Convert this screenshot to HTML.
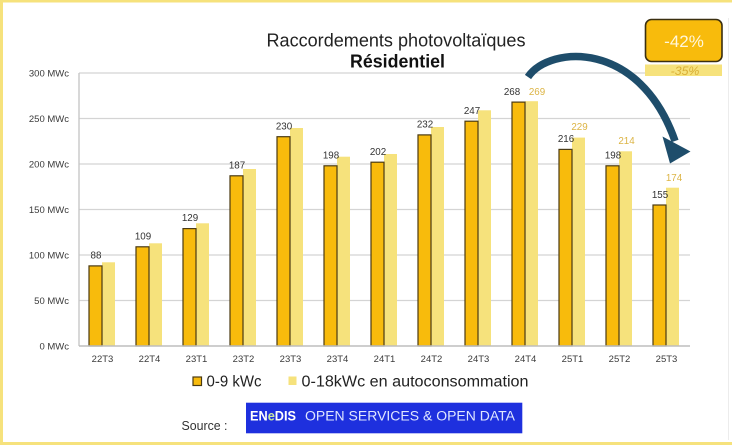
<!DOCTYPE html>
<html><head><meta charset="utf-8"><style>
html,body{margin:0;padding:0;background:#fff;}
svg{display:block;}
text{font-family:"Liberation Sans",Arial,sans-serif;}
</style></head><body>
<svg width="732" height="445" viewBox="0 0 732 445" xmlns="http://www.w3.org/2000/svg">
<rect x="0" y="0" width="732" height="445" fill="#fff"/>
<!-- frame -->
<rect x="0" y="0" width="732" height="2.5" fill="#f6e27c"/>
<rect x="0" y="0" width="3" height="445" fill="#f6e27c"/>
<rect x="0" y="442" width="732" height="3" fill="#f6e27c"/>
<line x1="728.5" y1="18" x2="728.5" y2="440" stroke="#ececec" stroke-width="1"/>

<!-- title -->
<text x="396" y="46.5" font-size="18" fill="#222" text-anchor="middle" textLength="259" lengthAdjust="spacingAndGlyphs">Raccordements photovoltaïques</text>
<text x="397.5" y="67.5" font-size="18" font-weight="bold" fill="#111" text-anchor="middle" textLength="95" lengthAdjust="spacingAndGlyphs">Résidentiel</text>

<!-- gridlines -->
<g stroke="#d4d4d4" stroke-width="1.3">
<line x1="79" y1="73" x2="690" y2="73"/>
<line x1="79" y1="118.5" x2="690" y2="118.5"/>
<line x1="79" y1="164" x2="690" y2="164"/>
<line x1="79" y1="209.5" x2="690" y2="209.5"/>
<line x1="79" y1="255" x2="690" y2="255"/>
<line x1="79" y1="300.5" x2="690" y2="300.5"/>
</g>
<line x1="79" y1="73" x2="79" y2="346" stroke="#c4c4c4" stroke-width="1.3"/>

<!-- y labels -->
<g font-size="9.5" fill="#3a3a3a" text-anchor="end">
<text x="69" y="76.5">300 MWc</text>
<text x="69" y="122">250 MWc</text>
<text x="69" y="167.5">200 MWc</text>
<text x="69" y="213">150 MWc</text>
<text x="69" y="258.5">100 MWc</text>
<text x="69" y="304">50 MWc</text>
<text x="69" y="349.5">0 MWc</text>
</g>

<!-- bars -->
<g fill="#f6e27c">
<rect x="102" y="262.3" width="13" height="83.7"/>
<rect x="149" y="243.3" width="13" height="102.7"/>
<rect x="196" y="223.3" width="13" height="122.7"/>
<rect x="243" y="169" width="13" height="177"/>
<rect x="290" y="128" width="13" height="218"/>
<rect x="337" y="156.7" width="13" height="189.3"/>
<rect x="384" y="154" width="13" height="192"/>
<rect x="431" y="127" width="13" height="219"/>
<rect x="478" y="110.3" width="13" height="235.7"/>
<rect x="525" y="101.2" width="13" height="244.8"/>
<rect x="572" y="137.6" width="13" height="208.4"/>
<rect x="619" y="151.3" width="13" height="194.7"/>
<rect x="666" y="187.7" width="13" height="158.3"/>
</g>
<g fill="#f8bb0c" stroke="#4a3a12" stroke-width="1.2">
<rect x="89" y="265.9" width="13" height="80.1"/>
<rect x="136" y="246.8" width="13" height="99.2"/>
<rect x="183" y="228.6" width="13" height="117.4"/>
<rect x="230" y="175.8" width="13" height="170.2"/>
<rect x="277" y="136.7" width="13" height="209.3"/>
<rect x="324" y="165.8" width="13" height="180.2"/>
<rect x="371" y="162.2" width="13" height="183.8"/>
<rect x="418" y="134.9" width="13" height="211.1"/>
<rect x="465" y="121.2" width="13" height="224.8"/>
<rect x="512" y="102.1" width="13" height="243.9"/>
<rect x="559" y="149.4" width="13" height="196.6"/>
<rect x="606" y="165.8" width="13" height="180.2"/>
<rect x="653" y="205" width="13" height="141"/>
</g>
<line x1="79" y1="346" x2="690" y2="346" stroke="#bdbdbd" stroke-width="1.5"/>

<!-- dark labels -->
<g font-size="9.8" fill="#333" text-anchor="middle">
<text x="96" y="258.5">88</text>
<text x="143" y="239.5">109</text>
<text x="190" y="221">129</text>
<text x="237" y="168.5">187</text>
<text x="284" y="129.5">230</text>
<text x="331" y="158.5">198</text>
<text x="378" y="155">202</text>
<text x="425" y="127.5">232</text>
<text x="472" y="114">247</text>
<text x="512" y="95">268</text>
<text x="566" y="142">216</text>
<text x="613" y="158.5">198</text>
<text x="660" y="198">155</text>
</g>
<g font-size="9.8" fill="#dcb444" text-anchor="middle">
<text x="537" y="95">269</text>
<text x="579.5" y="130">229</text>
<text x="626.5" y="144">214</text>
<text x="674" y="181">174</text>
</g>

<!-- x labels -->
<g font-size="9.5" fill="#3a3a3a" text-anchor="middle">
<text x="102.5" y="362">22T3</text>
<text x="149.5" y="362">22T4</text>
<text x="196.5" y="362">23T1</text>
<text x="243.5" y="362">23T2</text>
<text x="290.5" y="362">23T3</text>
<text x="337.5" y="362">23T4</text>
<text x="384.5" y="362">24T1</text>
<text x="431.5" y="362">24T2</text>
<text x="478.5" y="362">24T3</text>
<text x="525.5" y="362">24T4</text>
<text x="572.5" y="362">25T1</text>
<text x="619.5" y="362">25T2</text>
<text x="666.5" y="362">25T3</text>
</g>

<!-- legend -->
<rect x="193" y="377" width="8.5" height="8.5" fill="#f8bb0c" stroke="#4a3a12" stroke-width="1.2"/>
<text x="206.5" y="386.5" font-size="15.5" fill="#222" textLength="55" lengthAdjust="spacingAndGlyphs">0-9 kWc</text>
<rect x="288.5" y="376.5" width="8" height="8.5" fill="#f6e27c"/>
<text x="301.5" y="386.5" font-size="15.5" fill="#222" textLength="227" lengthAdjust="spacingAndGlyphs">0-18kWc en autoconsommation</text>

<!-- source -->
<text x="181.5" y="430" font-size="13" fill="#333" textLength="46" lengthAdjust="spacingAndGlyphs">Source :</text>
<rect x="246" y="402.7" width="276.3" height="30.6" fill="#1e30de"/>
<text x="250" y="420.5" font-size="13.5" font-weight="bold" fill="#fff" textLength="46" lengthAdjust="spacingAndGlyphs">EN<tspan fill="#c9e8a0">e</tspan>DIS</text>
<text x="305" y="420.5" font-size="13.5" fill="#dfe6ff" textLength="210" lengthAdjust="spacingAndGlyphs">OPEN SERVICES &amp; OPEN DATA</text>

<!-- badge -->
<rect x="645.5" y="19.5" width="76.5" height="42" rx="6" ry="6" fill="#f8bb0c" stroke="#3a2f10" stroke-width="1.6"/>
<text x="684" y="47" font-size="17" fill="#fff7dc" text-anchor="middle">-42%</text>
<rect x="645" y="64.5" width="77" height="11.5" fill="#f6e27c"/>
<text x="685" y="75" font-size="12.3" fill="#d9ae35" text-anchor="middle" font-style="italic">-35%</text>

<!-- arrow -->
<path d="M528,77 C550,45 640,40 675,141" fill="none" stroke="#1e4d6b" stroke-width="7.5" stroke-linecap="butt"/>
<polygon points="662.5,136.5 690.5,151.5 670,163.5" fill="#1e4d6b"/>
</svg>
</body></html>
